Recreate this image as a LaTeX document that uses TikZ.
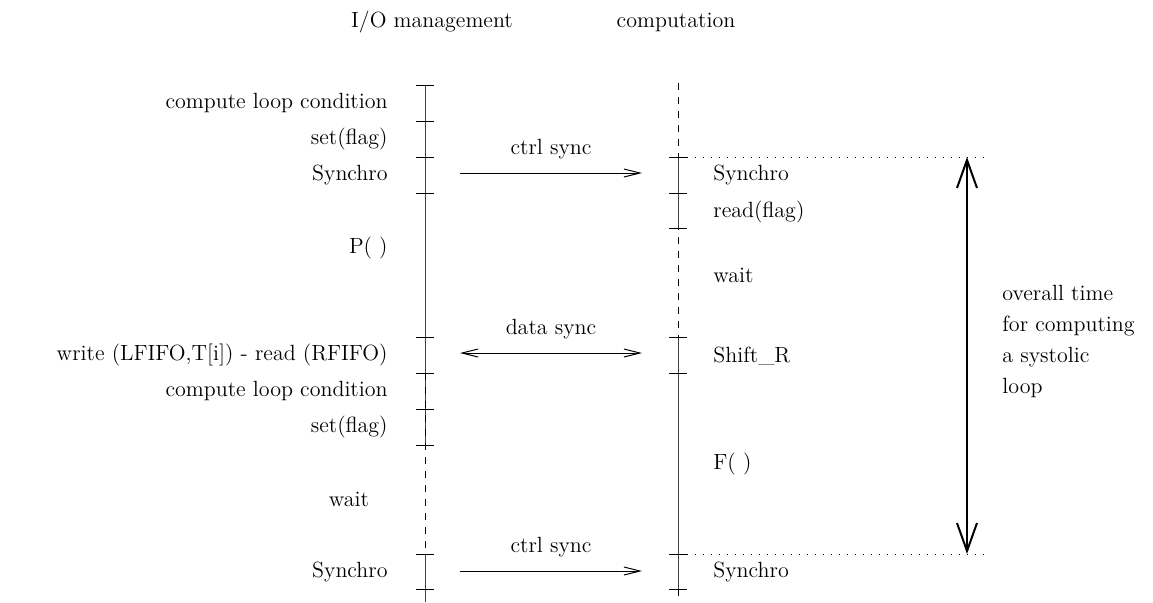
\documentclass[tikz,border=0pt]{standalone}
\usetikzlibrary{arrows.meta}

\begin{document}
\begin{tikzpicture}[x=0.5pt,y=-0.5pt,font=\fontsize{11}{15.5}\selectfont]
\tikzstyle{every node}+=[inner sep=0pt]
\tikzstyle{tick}=[black,line width=0.5pt]
\tikzstyle{life}=[black!75,line width=0.5pt]
\tikzstyle{idle}=[black,line width=0.5pt,dash pattern=on 3.5pt off 3.5pt]
\tikzstyle{sync}=[black,line width=0.5pt]
\tikzstyle{bound}=[black,line width=0.5pt,dash pattern=on 0.5pt off 3.5pt]
\tikzset{barb/.tip={Straight Barb[length=8pt,width=4pt]},
  bigbarb/.tip={Straight Barb[length=14pt,width=10pt]}}
\useasboundingbox (0,0) rectangle (1153,602);
% titles
\node (io) at (432,22) {I/O management};
\node (comp) at (676,22) {computation};
% I/O management line
\draw [life] (425,85) -- (425,445);
\draw [idle] (425,373) -- (425,554);
\draw [life] (425,554) -- (425,602);
\foreach \y in {85,121,157,193,337,373,409,445,554,589}
  \draw [tick] (416,\y) -- (434,\y);
% computation line
\draw [idle] (678,83) -- (678,337);
\draw [life] (678,157) -- (678,228);
\draw [life] (678,337) -- (678,589);
\draw [idle] (678,589) -- (678,602);
\foreach \y in {157,193,228,337,373,554,589}
  \draw [tick] (669,\y) -- (687,\y);
% I/O steps
\node [anchor=east] (cond1) at (388,103) {compute loop condition};
\node [anchor=east] (set1) at (388,139) {set(flag)};
\node [anchor=east] (syn1) at (388,175) {Synchro};
\node [anchor=east] (pp) at (388,248) {P( )};
\node [anchor=east] (wr) at (388,355) {write (LFIFO,T[i]) - read (RFIFO)};
\node [anchor=east] (cond2) at (388,391) {compute loop condition};
\node [anchor=east] (set2) at (388,427) {set(flag)};
\node (wait1) at (349,499) {wait};
\node [anchor=east] (syn2) at (388,572) {Synchro};
% computation steps
\node [anchor=west] (syn3) at (713,175) {Synchro};
\node [anchor=west] (rd) at (713,212) {read(flag)};
\node [anchor=west] (wait2) at (713,275) {wait};
\node [anchor=west] (shift) at (713,356) {Shift\_R};
\node [anchor=west] (ff) at (713,464) {F( )};
\node [anchor=west] (syn4) at (713,572) {Synchro};
% synchronisations
\coordinate (c1a) at (460,173);
\coordinate (c1b) at (642,173);
\coordinate (d1a) at (460,353);
\coordinate (d1b) at (642,353);
\coordinate (c2a) at (460,571);
\coordinate (c2b) at (642,571);
\draw [sync,-barb] (c1a) -- node [above=7pt] (ctl1) {ctrl sync} (c1b);
\draw [sync,barb-barb] (d1a) -- node [above=7pt] (dat) {data sync} (d1b);
\draw [sync,-barb] (c2a) -- node [above=7pt] (ctl2) {ctrl sync} (c2b);
% overall loop time
\coordinate (top) at (967,157);
\coordinate (bot) at (967,554);
\draw [bound] (687,157) -- (985,157);
\draw [bound] (687,554) -- (985,554);
\draw [black,line width=1pt,bigbarb-bigbarb] (top) -- (bot);
\node [anchor=north west,align=left] (total) at (1002,285) {overall time\\for computing\\a systolic\\loop};
\end{tikzpicture}
\end{document}
